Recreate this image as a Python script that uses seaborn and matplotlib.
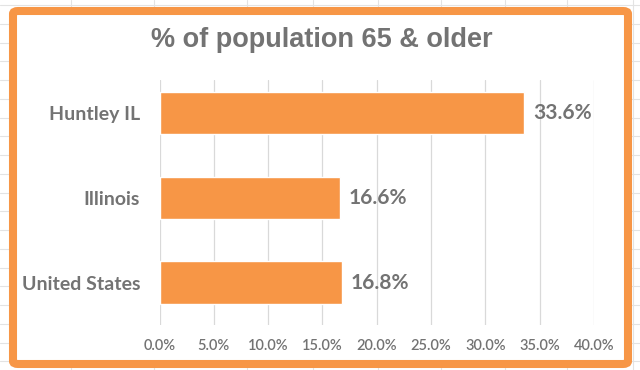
import matplotlib
matplotlib.use("Agg")
import matplotlib.pyplot as plt
import seaborn as sns
import pandas as pd
from matplotlib.patches import FancyBboxPatch
from matplotlib.lines import Line2D
from matplotlib.ticker import PercentFormatter

categories = ["Huntley IL", "Illinois", "United States"]
values = [33.6, 16.6, 16.8]
value_labels = ["33.6%", "16.6%", "16.8%"]
xticks = [0, 5, 10, 15, 20, 25, 30, 35, 40]
title = "% of population 65 & older"

ORANGE = "#F79646"
GRAY = "#737373"
W, H = 640, 370

sns.set_theme(style="white")
plt.rcParams["font.family"] = ["Lato", "DejaVu Sans"]

fig = plt.figure(figsize=(W / 100, H / 100), dpi=100)

# Excel sheet cell lines in the background
for x in [71, 154, 247, 313, 378, 441, 505, 567, 633]:
    fig.add_artist(Line2D([x / W, x / W], [0, 1], color="#e3e3e3", lw=0.8, zorder=0))
y = 5
while y < H:
    fig.add_artist(Line2D([0, 1], [1 - y / H, 1 - y / H], color="#e3e3e3", lw=0.8, zorder=0))
    y += 18.75

# chart frame
frame = FancyBboxPatch((13 / W, 1 - 364 / H), (628 - 13) / W, (364 - 11) / H,
                       boxstyle="round,pad=0,rounding_size=0.008",
                       transform=fig.transFigure, facecolor="white",
                       edgecolor=ORANGE, linewidth=5.8, zorder=1)
fig.add_artist(frame)

left, right, top, bottom = 159.5, 594, 80, 325
ax = fig.add_axes([left / W, 1 - bottom / H, (right - left) / W, (bottom - top) / H])
ax.set_zorder(2)
ax.patch.set_alpha(0)

df = pd.DataFrame({"category": categories, "value": values})
sns.barplot(data=df, y="category", x="value", order=categories, orient="h",
            color=ORANGE, saturation=1, width=0.5, ax=ax, zorder=3)

ax.set_xlim(0, 40)
ax.set_ylim(2.5, -0.39)
ax.set_xticks(xticks)
ax.xaxis.set_major_formatter(PercentFormatter(decimals=1))
ax.grid(axis="x", color="#d9d9d9", lw=0.9)
ax.set_axisbelow(True)
for s in ax.spines.values():
    s.set_visible(False)
ax.set_xlabel("")
ax.set_ylabel("")
ax.tick_params(axis="x", length=0, pad=10, labelsize=10.5, labelcolor=GRAY)
ax.tick_params(axis="y", length=0, pad=14, labelsize=14, labelcolor=GRAY)
for lab in ax.get_yticklabels():
    lab.set_fontweight("bold")
for lab in ax.get_xticklabels():
    lab.set_fontweight("semibold")

for i, (v, t) in enumerate(zip(values, value_labels)):
    ax.annotate(t, (v, i), xytext=(6, 0), textcoords="offset points",
                va="center", ha="left", fontsize=15, fontweight="bold", color=GRAY)

fig.text(322 / W, 1 - 40 / H, title, ha="center", va="center",
         fontsize=19.5, fontweight="bold", color=GRAY,
         family=["Liberation Sans", "DejaVu Sans"])

fig.savefig("out.png", dpi=100)
